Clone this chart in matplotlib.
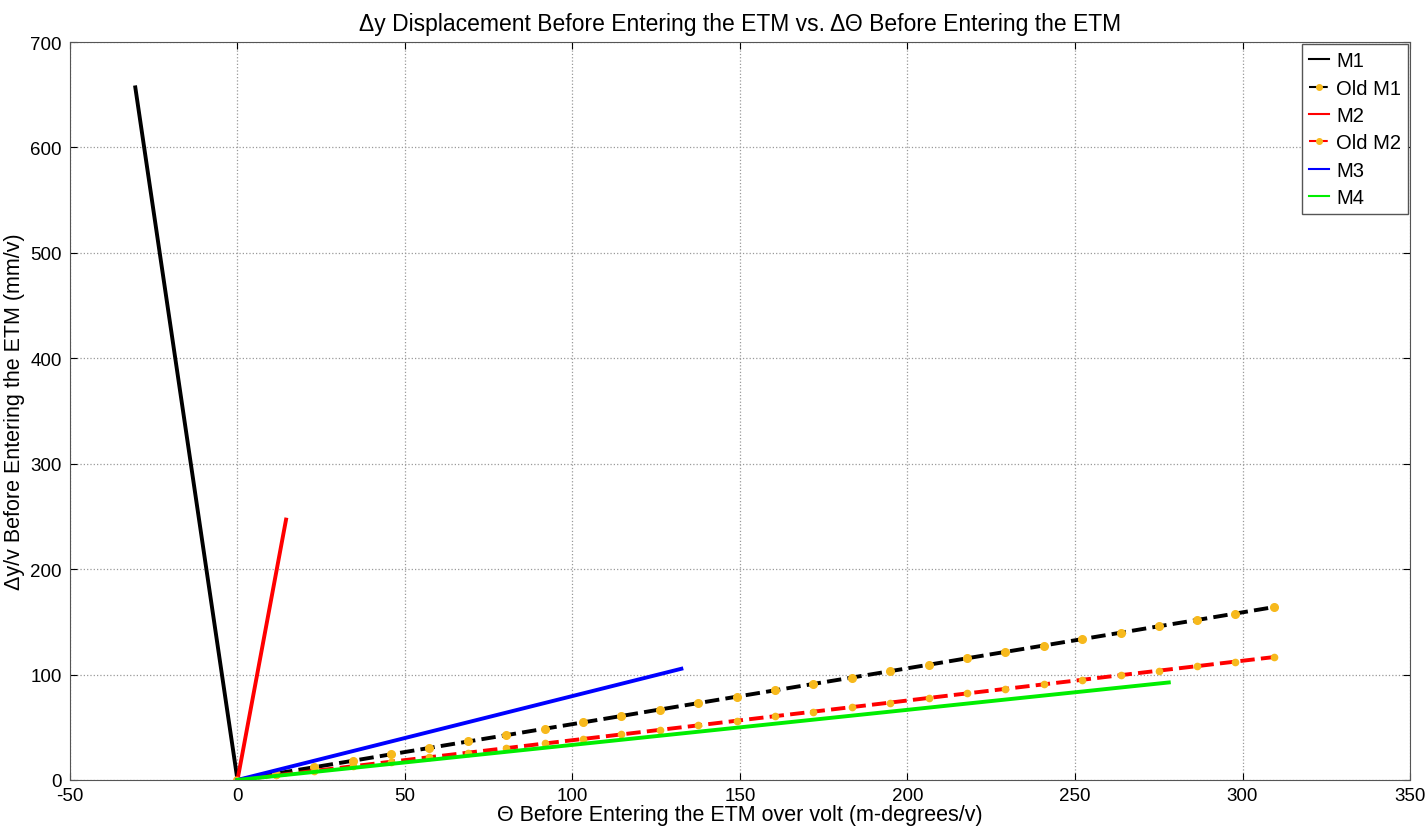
import matplotlib
matplotlib.use('Agg')
import matplotlib.pyplot as plt

plt.rcParams['font.family'] = ['Liberation Sans', 'DejaVu Sans']
plt.rcParams['axes.unicode_minus'] = False

# endpoints of the straight responses (start at origin)
m1_x = [0, -30.5]
m1_y = [0, 657]
m2_x = [0, 14.5]
m2_y = [0, 247]
m3_x = [0, 132.5]
m3_y = [0, 105.5]
m4_x = [0, 278]
m4_y = [0, 92.5]

# old measurements, sampled points
old_x = [0, 11.5, 22.9, 34.4, 45.8, 57.3, 68.8, 80.2, 91.7, 103.1, 114.6, 126.0, 137.5, 149.0,
         160.4, 171.9, 183.3, 194.8, 206.3, 217.7, 229.2, 240.6, 252.1, 263.6, 275.0, 286.5, 297.9, 309.4]
old_m1_y = [0, 6.1, 12.1, 18.2, 24.3, 30.4, 36.5, 42.5, 48.6, 54.6, 60.7, 66.8, 72.9, 79.0,
            85.0, 91.1, 97.1, 103.2, 109.3, 115.4, 121.5, 127.5, 133.6, 139.7, 145.8, 151.8, 157.9, 164.0]
old_m2_y = [0, 4.3, 8.6, 13.0, 17.3, 21.6, 25.9, 30.2, 34.6, 38.9, 43.2, 47.5, 51.8, 56.2,
            60.5, 64.8, 69.1, 73.4, 77.8, 82.1, 86.4, 90.7, 95.0, 99.4, 103.7, 108.0, 112.3, 116.6]

fig = plt.figure(figsize=(14.28, 8.28), dpi=100)
ax = fig.add_axes([0.049, 0.0568, 0.9384, 0.8912])

orange = '#f7b91c'
ax.plot(m1_x, m1_y, color='black', lw=2.8, label='M1')
ax.plot(old_x, old_m1_y, color='black', lw=2.8, ls='--', marker='o', ms=5.5,
        mfc=orange, mec=orange, label='Old M1')
ax.plot(m2_x, m2_y, color='red', lw=2.8, label='M2')
ax.plot(old_x, old_m2_y, color='red', lw=2.8, ls='--', marker='o', ms=4.5,
        mfc=orange, mec=orange, label='Old M2')
ax.plot(m3_x, m3_y, color='blue', lw=2.8, label='M3')
ax.plot(m4_x, m4_y, color='#00ee00', lw=2.8, label='M4')

ax.set_xlim(-50, 350)
ax.set_ylim(0, 700)
ax.set_xticks(range(-50, 351, 50))
ax.set_yticks(range(0, 701, 100))
ax.grid(True, ls=':', color='#999999', lw=0.9)
ax.tick_params(direction='in', labelsize=13.5, length=5, top=True, right=True)
ax.tick_params(axis='x', pad=5)
ax.tick_params(axis='y', pad=6)
for s in ax.spines.values():
    s.set_color('#555555')

ax.set_title('\u0394y Displacement Before Entering the ETM vs. \u0394\u0398 Before Entering the ETM',
             fontsize=16.5, pad=9)
ax.set_xlabel('\u0398 Before Entering the ETM over volt (m-degrees/v)', fontsize=15.5, labelpad=0)
ax.set_ylabel('\u0394y/v Before Entering the ETM (mm/v)', fontsize=15.5, labelpad=4)

leg = ax.legend(loc='upper right', fontsize=14.5, fancybox=False, framealpha=1,
                edgecolor='#555555', borderaxespad=0.1, handlelength=1.0,
                handletextpad=0.35, labelspacing=0.42, borderpad=0.35)
for line in leg.get_lines():
    line.set_linewidth(1.5)
    line.set_markersize(4)

fig.savefig('out.png', dpi=100)
